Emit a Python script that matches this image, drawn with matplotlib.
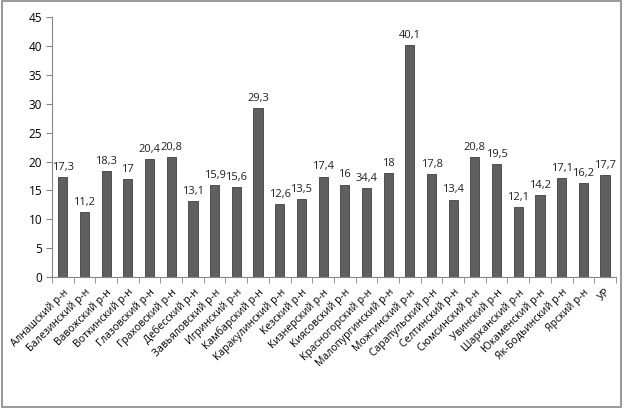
import numpy as np
import matplotlib
matplotlib.use('Agg')
import matplotlib.pyplot as plt
import matplotlib.transforms as mtransforms
from matplotlib.patches import Rectangle

plt.rcParams['font.family'] = ['Open Sans', 'DejaVu Sans']

districts = ['Алнашский р-н', 'Балезинский р-н', 'Вавожский р-н', 'Воткинский р-н',
             'Глазовский р-н', 'Граховский р-н', 'Дебесский р-н', 'Завьяловский р-н',
             'Игринский р-н', 'Камбарский р-н', 'Каракулинский р-н', 'Кезский р-н',
             'Кизнерский р-н', 'Киясовский р-н', 'Красногорский р-н', 'Малопургинский р-н',
             'Можгинский р-н', 'Сарапульский р-н', 'Селтинский р-н', 'Сюмсинский р-н',
             'Увинский р-н', 'Шарканский р-н', 'Юкаменский р-н', 'Як-Бодьинский р-н',
             'Ярский р-н', 'УР']
values = [17.3, 11.2, 18.3, 17, 20.4, 20.8, 13.1, 15.9, 15.6, 29.3, 12.6, 13.5,
          17.4, 16, 15.4, 18, 40.1, 17.8, 13.4, 20.8, 19.5, 12.1, 14.2, 17.1, 16.2, 17.7]
# labels as printed on the chart (Красногорский bar is labelled 34,4)
labels = ['17,3', '11,2', '18,3', '17', '20,4', '20,8', '13,1', '15,9', '15,6', '29,3',
          '12,6', '13,5', '17,4', '16', '34,4', '18', '40,1', '17,8', '13,4', '20,8',
          '19,5', '12,1', '14,2', '17,1', '16,2', '17,7']

fig = plt.figure(figsize=(6.24, 4.09), dpi=100)
ax = fig.add_axes([0.0833, 0.3227, 0.9037, 0.6353])

pos = np.arange(len(values))
bars = ax.bar(pos, values, width=0.42, color='#5f5f5f', edgecolor='#3f3f3f', linewidth=0.6)

for b, lab in zip(bars, labels):
    ax.annotate(lab, (b.get_x() + b.get_width() / 2, b.get_height()),
                xytext=(0, 3), textcoords='offset points',
                ha='center', va='bottom', fontsize=8, color='#202020')

ax.set_xlim(-0.5, len(values) - 0.5)
ax.set_ylim(0, 45)
ax.set_yticks(range(0, 46, 5))
ax.set_xticks(pos)
ax.set_xticklabels(districts, rotation=45, ha='right', rotation_mode='anchor', fontsize=7.5)
shift = mtransforms.ScaledTranslation(4 / 100, 2 / 100, fig.dpi_scale_trans)
for t in ax.get_xticklabels():
    t.set_transform(t.get_transform() + shift)
ax.set_xticks(np.arange(-0.5, len(values), 1), minor=True)
ax.tick_params(axis='x', which='major', length=0, pad=7)
ax.tick_params(axis='x', which='minor', length=4, color='#868686', direction='out')
ax.tick_params(axis='y', length=4, color='#868686', labelsize=8.5, pad=3)

for s in ['top', 'right']:
    ax.spines[s].set_visible(False)
for s in ['left', 'bottom']:
    ax.spines[s].set_color('#868686')
    ax.spines[s].set_linewidth(0.8)

fig.patches.append(Rectangle((0.003, 0.004), 0.992, 0.993, transform=fig.transFigure,
                             fill=False, edgecolor='#868686', linewidth=1.2))

fig.savefig('out.png', dpi=100)
